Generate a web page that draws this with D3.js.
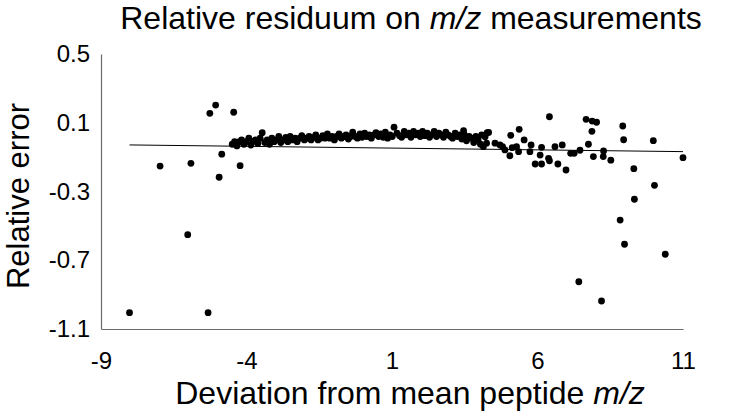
<!DOCTYPE html>
<html><head><meta charset="utf-8">
<script src="https://cdn.jsdelivr.net/npm/d3@7"></script>
<style>
body{margin:0;background:#fff;}
svg{display:block;font-family:"Liberation Sans",Arial,sans-serif;}
</style></head>
<body>
<svg id="chart" width="730" height="418"></svg>
<script>
// ---- data ----
const xTicks = [-9, -4, 1, 6, 11];
const yTicks = [0.5, 0.1, -0.3, -0.7, -1.1];
const xTickLabels = ["-9", "-4", "1", "6", "11"];
const yTickLabels = ["0.5", "0.1", "-0.3", "-0.7", "-1.1"];

const leftX = [-8.02,-6.97,-6.02,-5.91,-5.32,-5.26,-5.06,-4.94,-4.85,-4.44,-4.22,-3.46];
const leftY = [-1.005,-0.152,-0.551,-0.136,-1.005,0.155,0.203,-0.217,-0.083,0.161,-0.150,0.042];

const bandX = [-4.49,-4.41,-4.33,-4.24,-4.17,-4.09,-4.01,-3.92,-3.85,-3.78,-3.69,-3.61,-3.53,-3.37,-3.29,-3.21,-3.13,-3.05,-2.97,-2.89,-2.82,-2.73,-2.65,-2.58,-2.50,-2.42,-2.33,-2.26,-2.17,-2.10,-2.01,-1.94,-1.85,-1.78,-1.69,-1.62,-1.54,-1.46,-1.38,-1.30,-1.22,-1.14,-1.06,-0.98,-0.90,-0.82,-0.74,-0.66,-0.58,-0.50,-0.42,-0.35,-0.26,-0.19,-0.10,-0.03,0.06,0.13,0.22,0.29,0.38,0.45,0.54,0.61,0.70,0.77,0.85,0.93,1.01,1.07,1.17,1.26,1.33,1.42,1.49,1.58,1.65,1.74,1.81,1.90,1.97,2.05,2.13,2.21,2.29,2.37,2.45,2.53,2.61,2.69,2.77,2.85,2.93,3.01,3.08,3.17,3.24,3.33,3.40,3.46,3.49,3.56,3.65,3.72,3.81,3.88,3.96,4.04];
const bandY = [-0.025,-0.01,-0.035,-0.01,0.00,-0.025,-0.01,0.01,-0.03,-0.01,0.00,-0.02,0.01,-0.015,0.00,-0.025,0.01,-0.01,0.00,0.02,-0.015,0.00,0.015,-0.01,0.02,0.00,0.01,-0.01,0.01,0.025,0.00,0.01,0.02,0.00,0.015,0.03,0.00,0.01,0.025,0.01,0.035,0.01,0.02,0.00,0.02,0.035,0.01,0.02,0.03,0.005,0.02,0.045,0.02,0.01,0.035,0.015,0.04,0.02,0.03,0.01,0.03,0.042,0.02,0.035,0.015,0.045,0.01,0.03,0.02,0.074,0.04,0.025,0.015,0.05,0.03,0.04,0.015,0.05,0.03,0.04,0.02,0.05,0.025,0.04,0.015,0.03,0.05,0.02,0.04,0.03,0.015,0.045,0.03,0.02,0.01,0.04,0.02,0.03,0.005,0.054,0.03,-0.005,0.02,0.01,-0.015,0.02,0.00,-0.025];

const rightX = [4.08,4.14,4.20,4.25,4.27,4.32,4.54,4.71,4.80,4.88,5.05,5.08,5.13,5.28,5.35,5.37,5.54,5.74,5.78,5.92,6.09,6.14,6.14,6.38,6.41,6.41,6.60,6.70,6.85,6.98,7.14,7.26,7.42,7.46,7.67,7.75,7.87,7.88,7.92,8.03,8.20,8.26,8.27,8.52,8.84,8.93,8.96,8.99,9.31,9.33,9.98,10.02,10.39,11.0];
const rightY = [0.029,-0.039,0.019,-0.019,0.042,0.044,-0.019,-0.029,-0.039,-0.058,-0.092,0.027,-0.045,-0.039,-0.068,0.062,0.000,-0.068,-0.029,-0.140,-0.088,-0.043,-0.140,-0.107,-0.121,0.135,-0.039,-0.140,-0.029,-0.175,-0.078,-0.078,-0.825,-0.060,0.120,-0.025,0.050,0.110,-0.097,0.103,-0.937,-0.097,-0.064,-0.118,-0.466,0.081,0.001,-0.607,-0.167,-0.345,-0.004,-0.264,-0.665,-0.103];

const trendX = [-8.02, 11.0];
const trendY = [-0.029, -0.068];

// ---- layout ----
const svg = d3.select("#chart");
const x = d3.scaleLinear().domain([-9, 11]).range([101, 683]);
const y = d3.scaleLinear().domain([-1.1, 0.5]).range([329, 54]);

const points = [];
[[leftX,leftY],[bandX,bandY],[rightX,rightY]].forEach(([xs,ys]) => xs.forEach((v,i) => points.push([v, ys[i]])));

// axes
const yAxis = d3.axisLeft(y).tickValues(yTicks).tickSize(0).tickPadding(11)
  .tickFormat((d,i) => yTickLabels[i]);
const gy = svg.append("g").attr("transform","translate(101,0)").call(yAxis);
const xAxis = d3.axisBottom(x).tickValues(xTicks).tickSize(0).tickPadding(23)
  .tickFormat((d,i) => xTickLabels[i]);
const gx = svg.append("g").attr("transform","translate(0,329)").call(xAxis);
[gx, gy].forEach(g => {
  g.select(".domain").attr("stroke","#6b6b6b").attr("stroke-width",1.2);
  g.selectAll("text").attr("font-size",24).attr("fill","#000")
    .attr("font-family","'Liberation Sans',Arial,sans-serif");
});

// trend line
svg.append("line")
  .attr("x1", x(trendX[0])).attr("y1", y(trendY[0]))
  .attr("x2", x(trendX[1])).attr("y2", y(trendY[1]))
  .attr("stroke","#000").attr("stroke-width",1);

// points
svg.append("g").selectAll("circle").data(points).join("circle")
  .attr("cx", d => x(d[0])).attr("cy", d => y(d[1])).attr("r", 3.4).attr("fill","#000");

// title
const t = svg.append("text").attr("x",411).attr("y",29).attr("text-anchor","middle")
  .attr("font-size",32).attr("fill","#000");
t.append("tspan").text("Relative residuum on ");
t.append("tspan").attr("font-style","italic").text("m/z");
t.append("tspan").text(" measurements");

// x title
const xt = svg.append("text").attr("x",410).attr("y",404).attr("text-anchor","middle")
  .attr("font-size",32).attr("fill","#000");
xt.append("tspan").text("Deviation from mean peptide ");
xt.append("tspan").attr("font-style","italic").text("m/z");

// y title
svg.append("text").attr("transform","translate(29,196) rotate(-90)").attr("text-anchor","middle")
  .attr("font-size",31).attr("fill","#000").text("Relative error");
</script>
</body></html>
